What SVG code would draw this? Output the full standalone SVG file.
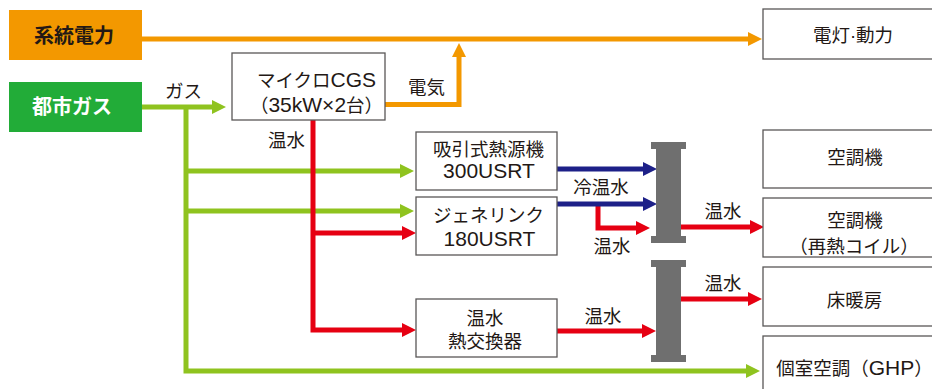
<svg xmlns="http://www.w3.org/2000/svg" width="932" height="389" viewBox="0 0 932 389">
<style>
text{font-family:"Liberation Sans","Noto Sans CJK JP",sans-serif;font-size:18.5px;fill:#231815;text-anchor:middle}
.lat{font-size:21px}
.hd{font-family:"Noto Sans CJK JP",sans-serif;font-weight:bold;font-size:20px}
.box{fill:#fff;stroke:#595757;stroke-width:1.3}
.c{fill:none;stroke-width:5;stroke-linejoin:miter}
.o{stroke:#F39800}.g{stroke:#8FC31F}.r{stroke:#E60012}.b{stroke:#1D2088}
.hdr{fill:#6F6F6F}
</style>
<defs>
<marker id="ao" viewBox="0 0 14 14" refX="4" refY="7" markerWidth="14" markerHeight="14" markerUnits="userSpaceOnUse" orient="auto"><path d="M0,0L14,7L0,14Z" fill="#F39800"/></marker>
<marker id="ag" viewBox="0 0 14 14" refX="4" refY="7" markerWidth="14" markerHeight="14" markerUnits="userSpaceOnUse" orient="auto"><path d="M0,0L14,7L0,14Z" fill="#8FC31F"/></marker>
<marker id="ar" viewBox="0 0 14 14" refX="4" refY="7" markerWidth="14" markerHeight="14" markerUnits="userSpaceOnUse" orient="auto"><path d="M0,0L14,7L0,14Z" fill="#E60012"/></marker>
<marker id="ab" viewBox="0 0 14 14" refX="4" refY="7" markerWidth="14" markerHeight="14" markerUnits="userSpaceOnUse" orient="auto"><path d="M0,0L14,7L0,14Z" fill="#1D2088"/></marker>
</defs>
<rect width="932" height="389" fill="#fff"/>
<g id="connectors">
<path class="c o" d="M142,39H752" marker-end="url(#ao)"/>
<path class="c o" d="M385,104.5H459V53" marker-end="url(#ao)"/>
<path class="c g" d="M142,107H216" marker-end="url(#ag)"/>
<path class="c g" d="M186,107V371H750" marker-end="url(#ag)"/>
<path class="c g" d="M186,171H404" marker-end="url(#ag)"/>
<path class="c g" d="M186,211H404" marker-end="url(#ag)"/>
<path class="c r" d="M313,120V330H406" marker-end="url(#ar)"/>
<path class="c r" d="M313,233H406" marker-end="url(#ar)"/>
<path class="c r" d="M598,206V228H640" marker-end="url(#ar)"/>
<path class="c b" d="M557,169H647" marker-end="url(#ab)"/>
<path class="c b" d="M557,204H647" marker-end="url(#ab)"/>
<path class="c r" d="M681,227H754" marker-end="url(#ar)"/>
<path class="c r" d="M557,331H646" marker-end="url(#ar)"/>
<path class="c r" d="M681,299H752" marker-end="url(#ar)"/>
<text x="183.5" y="98">ガス</text>
<text x="426.5" y="93.5">電気</text>
<text x="286.5" y="146.5">温水</text>
<text x="601" y="194">冷温水</text>
<text x="612" y="252.5">温水</text>
<text x="723" y="218">温水</text>
<text x="723" y="290">温水</text>
<text x="603" y="322.5">温水</text>
</g>
<g id="grid-power">
<rect x="9" y="10" width="133" height="50" fill="#F39800"/>
<text class="hd" x="74" y="43">系統電力</text>
</g>
<g id="city-gas">
<rect x="9" y="82" width="133" height="50" fill="#22AC38"/>
<text class="hd" x="72" y="114" style="fill:#fff">都市ガス</text>
</g>
<g id="micro-cgs">
<rect class="box" x="232" y="53" width="153" height="67"/>
<text x="316.5" y="87">マイクロ<tspan class="lat">CGS</tspan></text>
<text x="316.5" y="111.5">（<tspan class="lat">35kW×2</tspan>台）</text>
</g>
<g id="absorption-chiller">
<rect class="box" x="416" y="132" width="141" height="58"/>
<text x="488.5" y="156">吸引式熱源機</text>
<text class="lat" x="489" y="178">300USRT</text>
</g>
<g id="genelink">
<rect class="box" x="416" y="197" width="141" height="58"/>
<text x="488.5" y="221.5">ジェネリンク</text>
<text class="lat" x="489.5" y="246">180USRT</text>
</g>
<g id="heat-exchanger">
<rect class="box" x="416" y="299" width="141" height="58"/>
<text x="485" y="325">温水</text>
<text x="485" y="348">熱交換器</text>
</g>
<g id="header-1">
<path class="hdr" d="M651,142H686V149H681V236H686V243H651V236H656V149H651Z"/>
</g>
<g id="header-2">
<path class="hdr" d="M651,260H686V267H681V355H686V362H651V355H656V267H651Z"/>
</g>
<g id="lighting-power">
<rect class="box" x="763" y="9" width="180" height="50"/>
<text x="853" y="42">電灯·動力</text>
</g>
<g id="ahu">
<rect class="box" x="763" y="130" width="180" height="58"/>
<text x="855" y="164">空調機</text>
</g>
<g id="ahu-reheat">
<rect class="box" x="763" y="198" width="180" height="59"/>
<text x="855" y="226.5">空調機</text>
<text x="854" y="252.5">（再熱コイル）</text>
</g>
<g id="floor-heating">
<rect class="box" x="763" y="267" width="180" height="59"/>
<text x="854.5" y="306.5">床暖房</text>
</g>
<g id="ghp">
<rect class="box" x="763" y="336" width="180" height="70"/>
<text x="854.5" y="375">個室空調（<tspan class="lat">GHP</tspan>）</text>
</g>
</svg>
